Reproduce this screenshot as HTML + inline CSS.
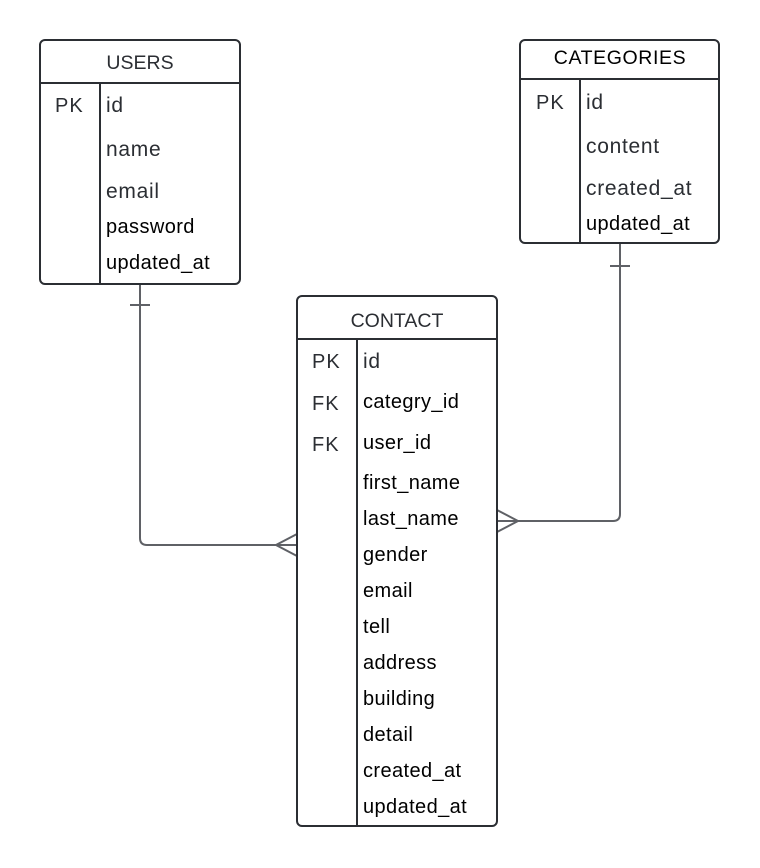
<!DOCTYPE html>
<html><head><meta charset="utf-8"><style>
html,body{margin:0;padding:0;background:#fff;}
svg{display:block;}
text{font-family:"Liberation Sans",sans-serif;}
.h{font-size:19.5px;fill:#2b2e33;text-anchor:middle;}
.hc{font-size:19.5px;fill:#000;text-anchor:middle;letter-spacing:0.6px;}
.k{font-size:20px;fill:#2b2e33;letter-spacing:1px;}
.g{font-size:21px;fill:#2b2e33;letter-spacing:0.7px;}
.f{font-size:20px;fill:#000;letter-spacing:0.4px;}
</style></head><body>
<svg width="760" height="868" viewBox="0 0 760 868" xmlns="http://www.w3.org/2000/svg">
<g fill="none" stroke="#5f6166" stroke-width="2">
<path d="M140 285 V538 Q140 545 147 545 H297"/>
<path d="M130 305 H150"/>
<path d="M297 534 L276 545 L297 556"/>
<path d="M620 244 V514 Q620 521 613 521 H497"/>
<path d="M610 266 H630"/>
<path d="M497 510 L518 521 L497 532"/>
</g>
<g fill="#fff" stroke="#2b2e33" stroke-width="2">
<rect x="40" y="40" width="200" height="244" rx="5"/>
<rect x="520" y="40" width="199" height="203" rx="5"/>
<rect x="297" y="296" width="200" height="530" rx="5"/>
</g>
<g stroke="#2b2e33" stroke-width="2">
<path d="M40 83 H240 M100 83 V284"/>
<path d="M520 79 H719 M580 79 V243"/>
<path d="M297 339 H497 M357 339 V826"/>
</g>
<text class="h" x="140" y="69">USERS</text>
<text class="k" x="55" y="112">PK</text>
<text class="g" x="106" y="112">id</text>
<text class="g" x="106" y="156">name</text>
<text class="g" x="106" y="198">email</text>
<text class="f" x="106" y="233">password</text>
<text class="f" x="106" y="269">updated_at</text>

<text class="hc" x="620" y="64">CATEGORIES</text>
<text class="k" x="536" y="109">PK</text>
<text class="g" x="586" y="109">id</text>
<text class="g" x="586" y="153">content</text>
<text class="g" x="586" y="195">created_at</text>
<text class="f" x="586" y="230">updated_at</text>

<text class="h" x="397" y="327">CONTACT</text>
<text class="k" x="312" y="368">PK</text>
<text class="k" x="312" y="410">FK</text>
<text class="k" x="312" y="451">FK</text>
<text class="g" x="363" y="368">id</text>
<text class="f" x="363" y="408">categry_id</text>
<text class="f" x="363" y="449">user_id</text>
<text class="f" x="363" y="489">first_name</text>
<text class="f" x="363" y="525">last_name</text>
<text class="f" x="363" y="561">gender</text>
<text class="f" x="363" y="597">email</text>
<text class="f" x="363" y="633">tell</text>
<text class="f" x="363" y="669">address</text>
<text class="f" x="363" y="705">building</text>
<text class="f" x="363" y="741">detail</text>
<text class="f" x="363" y="777">created_at</text>
<text class="f" x="363" y="813">updated_at</text>
</svg>
</body></html>
